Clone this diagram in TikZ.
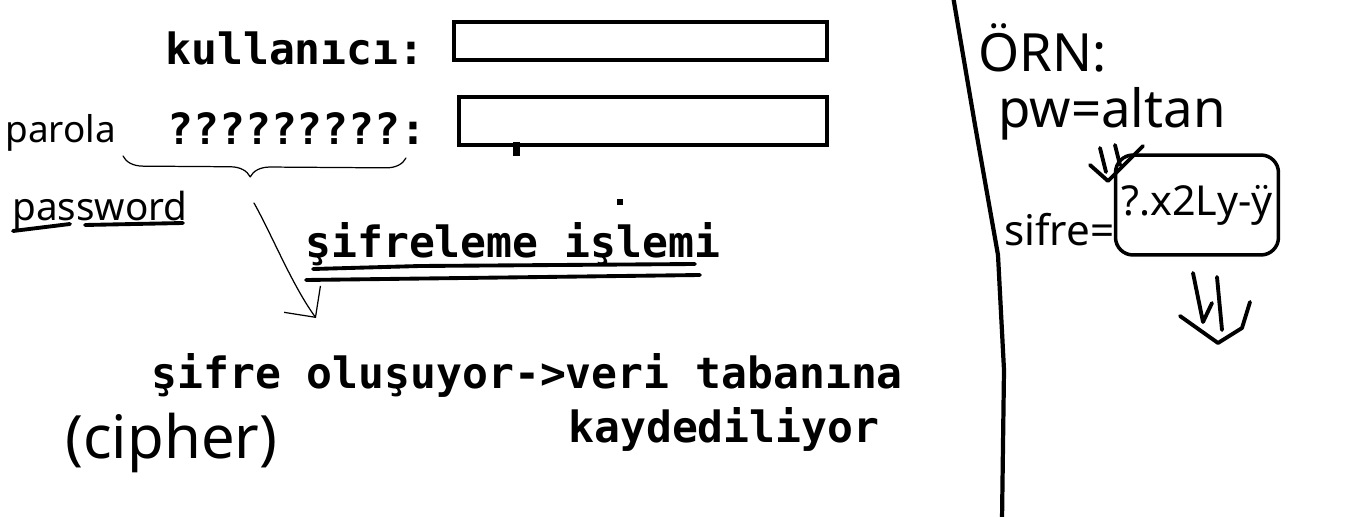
\documentclass[tikz,border=0pt]{standalone}
\usepackage{fontspec}
\newfontfamily\typedfont{DejaVu Sans Mono}
\newfontfamily\handfont{Noto Sans}
\usepackage{tikz}
\usetikzlibrary{arrows.meta,positioning,decorations.pathreplacing}

\begin{document}
\begin{tikzpicture}[
    x=0.02cm, y=-0.02cm,
    typed/.style={anchor=base west, inner sep=0pt, font=\typedfont\bfseries\fontsize{24.5}{29}\selectfont},
    hand/.style={anchor=base west, inner sep=0pt, font=\handfont\fontsize{#1}{#1}\selectfont},
    field/.style={rectangle, draw=black, line width=2.3pt, inner sep=0pt, anchor=north west},
    pen/.style={line width=2.2pt, line cap=round, line join=round},
    sketch/.style={line width=0.7pt, line cap=round, line join=round},
]
\useasboundingbox (0,0) rectangle (1347,517);

% Login form
\node[typed] (user) at (165,65) {kullanıcı:};
\node[field, minimum width=7.46cm, minimum height=0.76cm] (userbox) at (452,20) {};
\node[typed] (pass) at (167,145) {?????????:};
\node[field, minimum width=7.36cm, minimum height=0.96cm] (passbox) at (457,95) {};
\fill (513,142) rectangle (520,156);
\fill (617,199) rectangle (623,205);

% Notes on the left
\node[hand=21] (parola) at (5,143) {parola};
\node[hand=22] (password) at (12,220) {password};
\draw[pen] (13,231) -- (70,224);
\draw[pen] (85,225) -- (183,223);

% Brace and arrow
\draw[sketch, decorate, decoration={brace, mirror, amplitude=0.4cm, aspect=0.45}] (123,156) -- (406,158);
\coordinate (tip) at (254,203);
\coordinate (arrowend) at (316,318);
\draw[sketch, -{Straight Barb[length=4.5mm, width=9mm]}] (tip) .. controls (272,235) and (292,285) .. (arrowend);

% Encryption
\node[typed] (encrypt) at (305,257) {şifreleme işlemi};
\draw[pen] (313,269) -- (420,266) -- (695,264);
\draw[pen] (306,280) -- (700,275);

% Result
\node[typed] (result) at (151,388) {şifre oluşuyor->veri tabanına};
\node[typed] (saved) at (568,442) {kaydediliyor};
\node[hand=34] (cipher) at (65,458) {(cipher)};

% Divider
\draw[pen, line width=2.4pt] (953,-4) -- (975,125) -- (998,255) -- (1004,370) -- (1002,521);

% Example on the right
\node[hand=30] (example) at (978,72) {ÖRN:};
\node[hand=30] (pw) at (998,128) {pw=altan};
\node[hand=24] (sifre) at (1004,246) {sifre=};
\node[draw, line width=2pt, rounded corners=10pt, minimum width=3.26cm, minimum height=2cm, inner sep=0pt, font=\handfont\fontsize{23.5}{23.5}\selectfont] (cipherbox) at (1197,205) {?.x2Ly-ÿ};

% Double arrows
\draw[pen] (1100,148) -- (1106,172);
\draw[pen] (1115,145) -- (1120,165);
\draw[pen] (1090,165) -- (1108,181) -- (1143,146);
\draw[pen] (1193,273) -- (1203,322) -- (1212,303);
\draw[pen] (1217,277) -- (1222,330);
\draw[pen] (1180,316) -- (1218,343) -- (1242,328) -- (1250,302);

\end{tikzpicture}
\end{document}
